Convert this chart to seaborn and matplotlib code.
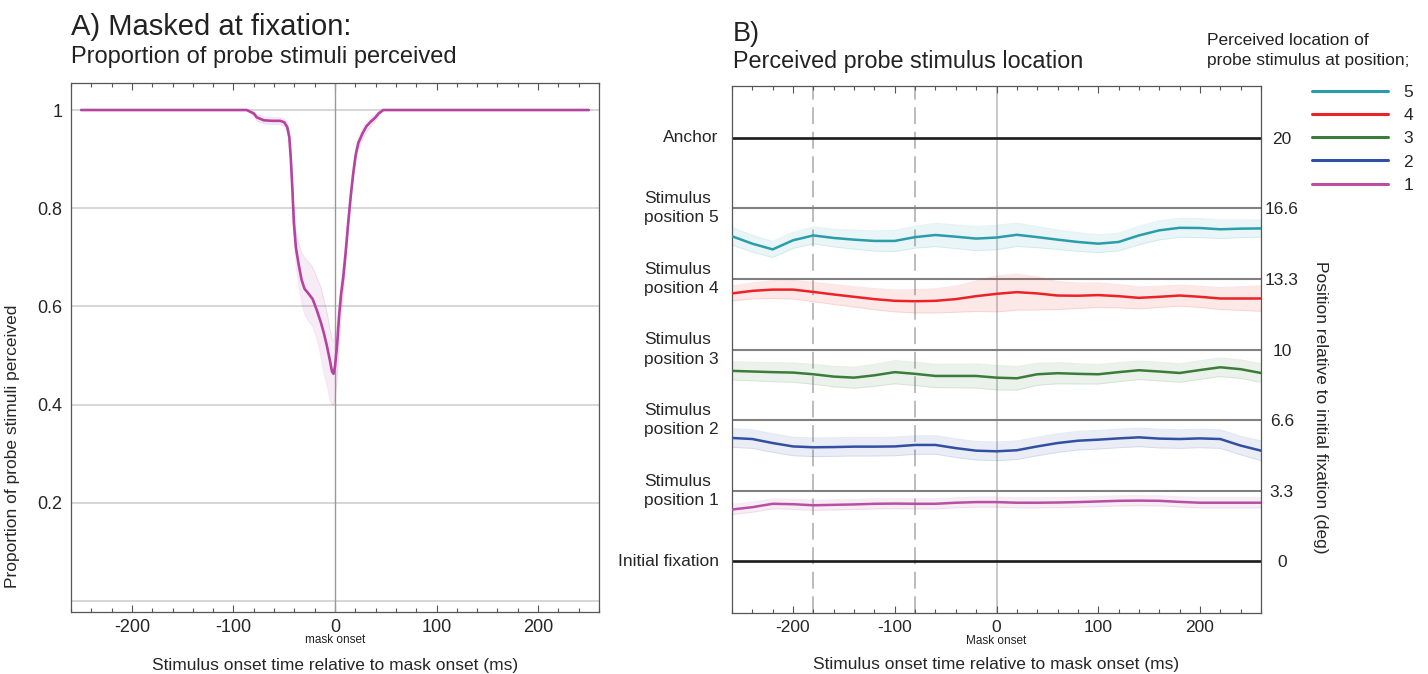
import numpy as np
import pandas as pd
import matplotlib
matplotlib.use("Agg")
import matplotlib.pyplot as plt
import matplotlib.transforms as mtransforms
from matplotlib.lines import Line2D
from matplotlib.ticker import MultipleLocator
import seaborn as sns

sns.set_style("white")
plt.rcParams['font.family'] = ['Liberation Sans', 'DejaVu Sans']

# ---- panel A: proportion of probes perceived (masked at fixation)
t_a = [-250, -100, -87, -80, -77, -70, -62, -54, -50, -47, -45, -43.5, -42, -40.5,
       -38.5, -36, -33, -30, -26, -22, -18, -14, -11, -8, -5, -3, -1.5, 0, 2, 4, 6,
       8.2, 10.5, 13, 15.5, 18, 20.5, 23, 27, 31, 35, 39.4, 43, 47.6, 250]
prop_mean = [1, 1, 1, .993, .985, .979, .978, .978, .975, .965, .945, .90, .84, .77,
             .72, .688, .655, .636, .626, .615, .593, .568, .546, .52, .49, .468, .463, .478, .52, .58, .625,
             .661, .71, .77, .825, .872, .91, .933, .952, .967, .976, .984, .993, 1, 1]
prop_lo = [1, 1, 1, .988, .978, .972, .971, .971, .967, .955, .933, .885, .82, .745,
           .685, .645, .61, .585, .57, .56, .535, .50, .465, .44, .41, .40, .40, .41, .45, .52, .58,
           .63, .69, .755, .81, .86, .90, .922, .94, .955, .966, .977, .988, 1, 1]
prop_hi = [1, 1, 1, .997, .991, .986, .985, .985, .982, .973, .955, .915, .86, .80,
           .755, .73, .71, .70, .69, .68, .66, .64, .615, .59, .555, .535, .53, .54, .56, .61, .65,
           .685, .73, .785, .84, .885, .92, .943, .962, .976, .984, .99, .997, 1, 1]

xticks = [-200, -100, 0, 100, 200]
xtick_labels = ['-200', '-100', '0', '100', '200']
grid_a = [0, 0.2, 0.4, 0.6, 0.8, 1.0]
yticks_a = [0.2, 0.4, 0.6, 0.8, 1.0]
ytick_labels_a = ['0.2', '0.4', '0.6', '0.8', '1']

# ---- panel B: perceived location per probe position
t_b = [-260, -240, -220, -200, -180, -160, -140, -120, -100, -80, -60, -40, -20, 0,
       20, 40, 60, 80, 100, 120, 140, 160, 180, 200, 220, 240, 260]
pos5 = [15.35, 15.00, 14.73, 15.16, 15.39, 15.27, 15.19, 15.13, 15.13, 15.31, 15.41, 15.33, 15.24, 15.29,
        15.42, 15.31, 15.19, 15.08, 15.00, 15.08, 15.39, 15.63, 15.75, 15.74, 15.68, 15.71, 15.72]
pos4 = [12.65, 12.77, 12.83, 12.83, 12.72, 12.60, 12.49, 12.38, 12.30, 12.28, 12.30, 12.38, 12.52, 12.63,
        12.71, 12.65, 12.55, 12.54, 12.57, 12.52, 12.44, 12.49, 12.55, 12.49, 12.41, 12.41, 12.41]
pos3 = [8.99, 8.96, 8.93, 8.91, 8.83, 8.72, 8.67, 8.78, 8.93, 8.85, 8.75, 8.75, 8.75, 8.67,
        8.64, 8.83, 8.88, 8.85, 8.83, 8.93, 9.02, 8.96, 8.89, 9.03, 9.16, 9.07, 8.89]
pos2 = [5.82, 5.77, 5.58, 5.42, 5.38, 5.39, 5.41, 5.41, 5.42, 5.49, 5.49, 5.34, 5.22, 5.19,
        5.24, 5.42, 5.58, 5.69, 5.74, 5.80, 5.85, 5.79, 5.77, 5.80, 5.77, 5.46, 5.22]
pos1 = [2.44, 2.55, 2.71, 2.69, 2.64, 2.66, 2.68, 2.71, 2.72, 2.71, 2.71, 2.76, 2.79, 2.79,
        2.76, 2.76, 2.77, 2.79, 2.82, 2.85, 2.86, 2.85, 2.80, 2.76, 2.76, 2.76, 2.76]
ci5 = [.42, .40, .38, .38, .40, .42, .45, .48, .50, .52, .55, .56, .57, .58,
       .55, .50, .46, .44, .42, .42, .44, .45, .45, .45, .44, .42, .41]
ci4 = [.35, .38, .42, .44, .46, .47, .48, .50, .52, .55, .57, .62, .72, .85,
       .85, .78, .66, .60, .58, .55, .52, .50, .50, .50, .52, .56, .60]
ci3 = [.43, .44, .45, .46, .47, .48, .50, .52, .55, .55, .55, .56, .57, .58,
       .56, .52, .50, .48, .46, .45, .44, .44, .44, .44, .44, .44, .44]
ci2 = [.44] * 26 + [.47]
ci1 = [.24] * 27

levels = [0, 3.33, 6.67, 10, 13.33, 16.67, 20]
level_names = ['Initial fixation', 'Stimulus\nposition 1', 'Stimulus\nposition 2',
               'Stimulus\nposition 3', 'Stimulus\nposition 4', 'Stimulus\nposition 5', 'Anchor']
level_ticks = ['0', '3.3', '6.6', '10', '13.3', '16.6', '20']
dashed_t = [-180, -80]

positions = ['5', '4', '3', '2', '1']
colors = {'5': '#2a9dab', '4': '#ec2227', '3': '#3d7b3b', '2': '#3150a3', '1': '#b84fa3'}
col_a = '#b5439f'

rows = []
for p, m, c in zip(positions, [pos5, pos4, pos3, pos2, pos1], [ci5, ci4, ci3, ci2, ci1]):
    for t, v, e in zip(t_b, m, c):
        rows.append({'time': t, 'position': p, 'value': v, 'ci': e})
df = pd.DataFrame(rows)

fig = plt.figure(figsize=(14.28, 6.74), dpi=100)
W, H = 1428, 674
axA = fig.add_axes([71 / W, 1 - 612 / H, 528 / W, 529 / H])
axB = fig.add_axes([732 / W, 1 - 613 / H, 529 / W, 527 / H])


def style_time_axis(ax, fs):
    ax.set_xlim(-260, 260)
    ax.set_xticks(xticks, labels=xtick_labels, fontsize=fs)
    ax.xaxis.set_minor_locator(MultipleLocator(20))
    ax.tick_params(axis='x', which='both', direction='in', top=True, bottom=True,
                   color='#555555', width=0.8)
    ax.tick_params(axis='x', which='major', length=5, pad=5)
    ax.tick_params(axis='x', which='minor', length=3)
    for s in ax.spines.values():
        s.set_color('#555555')
        s.set_linewidth(0.9)
    ax.set_xlabel('Stimulus onset time relative to mask onset (ms)', fontsize=12.5, labelpad=16)


# ---- A
for g in grid_a:
    axA.axhline(g, color='#cfcfcf', lw=1.2, zorder=0)
axA.axvline(0, color='#999999', lw=1, zorder=1)
axA.fill_between(t_a, prop_lo, prop_hi, color=col_a, alpha=0.1, lw=0, zorder=2)
axA.plot(t_a, prop_lo, color=col_a, alpha=0.12, lw=0.7, zorder=2)
axA.plot(t_a, prop_hi, color=col_a, alpha=0.12, lw=0.7, zorder=2)
sns.lineplot(x=t_a, y=prop_mean, color=col_a, lw=1.9, ax=axA, zorder=3)
axA.set_ylim(-0.022, 1.055)
axA.set_yticks(yticks_a, labels=ytick_labels_a, fontsize=13)
axA.tick_params(axis='y', length=0, pad=6)
style_time_axis(axA, 13)
axA.set_ylabel('Proportion of probe stimuli perceived', fontsize=12.5)
axA.yaxis.set_label_coords(-0.097, 0.313)
axA.text(0, -0.053, 'mask onset', transform=mtransforms.blended_transform_factory(axA.transData, axA.transAxes),
         ha='center', va='center', fontsize=8.5, color='#222222')

# ---- B
for lv in levels:
    black = lv in (0, 20)
    axB.axhline(lv, color='#1a1a1a' if black else '#808080', lw=1.9 if black else 1.5, zorder=1)
axB.axvline(0, color='#bbbbbb', lw=1.1, zorder=0)
for d in dashed_t:
    axB.axvline(d, color='#aaaaaa', lw=1.1, ls=(0, (11, 5)), zorder=0)
for p in positions:
    sub = df[df.position == p]
    lo = sub.value - sub.ci
    hi = sub.value + sub.ci
    axB.fill_between(sub.time, lo, hi, color=colors[p], alpha=0.1, lw=0, zorder=2)
    axB.plot(sub.time, lo, color=colors[p], alpha=0.12, lw=0.7, zorder=2)
    axB.plot(sub.time, hi, color=colors[p], alpha=0.12, lw=0.7, zorder=2)
sns.lineplot(data=df, x='time', y='value', hue='position', hue_order=positions,
             palette=colors, lw=1.8, legend=False, ax=axB, zorder=3)
axB.set_ylim(-2.45, 22.45)
axB.set_yticks(levels, labels=level_names, fontsize=12.5)
axB.tick_params(axis='y', length=0, pad=9.5)
for lbl in axB.get_yticklabels():
    lbl.set_multialignment('left')
    lbl.set_verticalalignment('center')
    lbl.set_linespacing(1.35)
axB.set_ylabel('')
style_time_axis(axB, 12.5)
axB.text(0, -0.054, 'Mask onset', transform=mtransforms.blended_transform_factory(axB.transData, axB.transAxes),
         ha='center', va='center', fontsize=8.5, color='#222222')

ax2 = axB.twinx()
ax2.set_ylim(axB.get_ylim())
ax2.set_yticks(levels, labels=level_ticks, fontsize=12.5)
ax2.tick_params(axis='y', length=0, pad=15)
for lbl in ax2.get_yticklabels():
    lbl.set_horizontalalignment('center')
for s in ax2.spines.values():
    s.set_visible(False)
ax2.set_ylabel('Position relative to initial fixation (deg)', fontsize=12.5, rotation=270)
ax2.yaxis.set_label_coords(1.113, 0.39)
ax2.yaxis.label.set_verticalalignment('center')

handles = [Line2D([], [], color=colors[p], lw=2.2) for p in positions]
axB.legend(handles, positions, loc='upper left', bbox_to_anchor=(1312 / W, 1 - 85 / H),
           bbox_transform=fig.transFigure, frameon=False, fontsize=12.5, handlelength=4.4,
           handletextpad=0.85, labelspacing=0.46, borderpad=0, borderaxespad=0)

# ---- titles
fig.text(71 / W, 1 - 35 / H, 'A) Masked at fixation:', fontsize=21, va='baseline', color='#222222')
fig.text(71 / W, 1 - 63 / H, 'Proportion of probe stimuli perceived', fontsize=17, va='baseline', color='#222222')
fig.text(733 / W, 1 - 41 / H, 'B)', fontsize=19.5, va='baseline', color='#222222')
fig.text(733 / W, 1 - 68 / H, 'Perceived probe stimulus location', fontsize=16.8, va='baseline', color='#222222')
fig.text(1207 / W, 1 - 33 / H, 'Perceived location of\nprobe stimulus at position;', fontsize=12.5,
         va='top', linespacing=1.45, color='#222222')

fig.savefig('out.png', dpi=100)
